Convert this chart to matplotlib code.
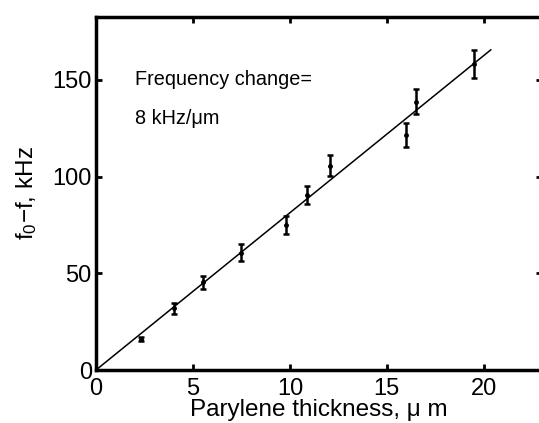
import matplotlib
matplotlib.use("Agg")
import matplotlib.pyplot as plt

plt.rcParams['font.family'] = ['Liberation Sans', 'DejaVu Sans']
plt.rcParams['mathtext.fontset'] = 'custom'
plt.rcParams['mathtext.rm'] = 'Liberation Sans'
plt.rcParams['mathtext.it'] = 'Liberation Sans'

# measured thickness (um), frequency shift (kHz) and error bars
thickness = [2.33, 4.0, 5.5, 7.47, 9.79, 10.86, 12.06, 16.0, 16.5, 19.5]
shift = [15.9, 31.9, 45.3, 60.7, 75.0, 90.5, 105.5, 121.5, 138.7, 158.2]
shift_err = [1.0, 2.9, 3.2, 4.3, 4.7, 4.5, 5.4, 6.0, 6.6, 7.2]

# linear fit through origin
fit_slope = 8.13
fit_x = [0, 20.36]

xticks = [0, 5, 10, 15, 20]
yticks = [0, 50, 100, 150]

fig = plt.figure(figsize=(5.39, 4.23), dpi=100)
ax = fig.add_axes([96 / 539, 53 / 423, 446 / 539, 353 / 423])

ax.plot(fit_x, [fit_slope * v for v in fit_x], color='black', lw=1.1)
ax.errorbar(thickness, shift, yerr=shift_err, fmt='.', color='black',
            ms=5, elinewidth=1.8, capsize=2.5, capthick=1.8)

ax.set_xlim(0, 23)
ax.set_ylim(0, 182.5)
ax.set_xticks(xticks)
ax.set_yticks(yticks)
ax.tick_params(direction='in', length=4, width=2, labelsize=17,
               top=True, right=True)
ax.tick_params(axis='x', pad=6)
ax.tick_params(axis='y', pad=3)
for side in ax.spines.values():
    side.set_linewidth(2.5)

ax.text(2.0, 150, 'Frequency change=', fontsize=14.3, va='center')
ax.text(2.0, 130, '8 kHz/\u03bcm', fontsize=14.3, va='center')

ax.set_xlabel('Parylene thickness, \u03bc m', fontsize=17.5, labelpad=-1)
ax.set_ylabel('f$_0$\u2212f, kHz', fontsize=17.5, labelpad=10)

fig.savefig('out.png', dpi=100)
